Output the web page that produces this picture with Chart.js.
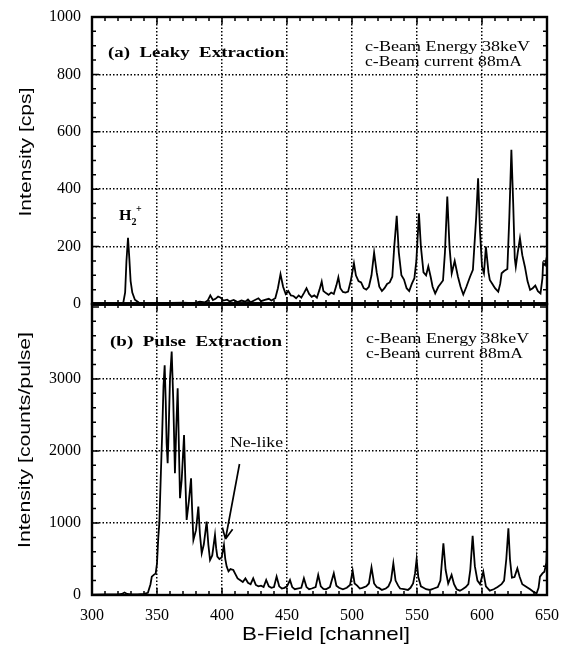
<!DOCTYPE html>
<html>
<head>
<meta charset="utf-8">
<script src="https://cdn.jsdelivr.net/npm/chart.js@4.4.0/dist/chart.umd.min.js"></script>
<style>
  html, body { margin: 0; padding: 0; background: #fff; }
  #wrap { position: relative; width: 569px; height: 646px; overflow: hidden; }
  canvas { position: absolute; left: 0; }
  #leaky { top: 0; }
  #pulse { top: 290px; }
</style>
</head>
<body>
<div id="wrap">
  <canvas id="leaky" width="569" height="330"></canvas>
  <canvas id="pulse" width="569" height="356"></canvas>
</div>
<script>
// Axis ticks
const xTicks = [300, 350, 400, 450, 500, 550, 600, 650];
const leakyTicks = [0, 200, 400, 600, 800, 1000];
const pulseTicks = [0, 1000, 2000, 3000];

// (a) Leaky extraction spectrum, channel / cps
const leakyCh = [
  300, 310, 320, 324, 325.5, 326.5, 327.7, 328.7, 329.7, 331,
  333, 336, 340, 350, 360, 370, 378, 383, 387, 389,
  391, 393, 395, 397, 399, 401, 404, 406, 409, 412,
  415, 418, 420, 422, 425, 428, 430, 433, 436, 438,
  441, 443, 445, 447, 449, 451, 453, 455, 457, 459,
  461, 463, 465, 467, 469, 471, 473, 475, 476.7, 478,
  480, 482, 484, 486, 488, 489.5, 491, 493, 495, 497,
  499, 501.5, 503, 505, 507, 509, 511, 513, 515, 517,
  519, 521, 523, 525, 527, 529, 531, 532.5, 534.4, 536,
  538, 540, 542, 544, 546, 548, 549.5, 551.5, 553, 555,
  557, 558.7, 560.5, 562, 564, 566.4, 568, 570, 571.5, 573.3,
  575, 576.7, 579, 581.5, 583.5, 585.6, 588, 590.8, 593, 595.5,
  597, 598.5, 600, 601.5, 603, 605, 606, 608, 610, 612.5,
  614, 615.1, 617, 619.5, 621, 622.6, 624, 625.2, 626, 627.5,
  629.2, 631, 633, 635, 637, 639, 641, 643, 645, 646.5,
  647, 648.5, 650
];
const leakyVal = [
  0, 2, 2, 3, 40, 150, 231, 160, 80, 40,
  15, 5, 3, 2, 4, 5, 3, 8, 6, 12,
  30, 14, 18, 26, 22, 12, 15, 9, 14, 7,
  12, 8, 16, 6, 13, 20, 10, 14, 18, 12,
  20, 55, 104, 60, 35, 45, 30, 28, 20, 30,
  22, 38, 55, 35, 25, 30, 22, 50, 78, 45,
  38, 32, 40, 35, 65, 93, 55, 42, 40, 43,
  80, 142, 100, 80, 75, 55, 50, 60, 100, 179,
  110, 60, 45, 55, 70, 75, 95, 200, 307, 180,
  100, 85, 55, 45, 70, 90, 150, 316, 200, 110,
  100, 131, 95, 60, 37, 60, 70, 82, 180, 374,
  200, 107, 150, 95, 60, 33, 60, 95, 119, 300,
  438, 250, 130, 107, 200, 110, 84, 70, 55, 43,
  70, 107, 115, 122, 300, 537, 350, 160, 130, 180,
  229, 170, 130, 80, 49, 55, 64, 45, 37, 90,
  142, 135, 167
];

// (b) Pulse extraction spectrum, channel / counts per pulse
const pulseCh = [
  300, 310, 320, 323, 325, 327, 330, 335, 340, 343,
  345, 346, 347.5, 349, 350, 351, 351.8, 353, 354, 355,
  355.9, 356.7, 357.4, 358.2, 359, 360, 361.3, 362.5, 363.8, 364.8,
  365.9, 366.8, 367.7, 369, 370.8, 371.8, 372.8, 374.5, 376.2, 377,
  378, 380, 381.8, 383, 384.4, 386, 388.2, 389.5, 390.8, 392.5,
  394.6, 395.5, 396.4, 398, 399.7, 401.5, 402.5, 403.6, 405, 406.5,
  408.7, 410, 412, 413.8, 416, 418, 420, 422, 424, 426,
  428, 430, 432, 434, 436, 438, 440, 442, 444, 446,
  448, 450, 452.3, 454, 456, 458, 461, 463, 465, 467,
  469, 472, 474, 476, 478, 480, 483, 486, 488, 490,
  493, 496, 498.5, 500.5, 502, 504, 506, 508, 511, 513,
  515, 517, 519, 521, 523, 526, 528, 530, 531.8, 533.5,
  535.5, 537, 540, 543, 545, 547, 548.5, 549.7, 551, 553,
  555, 557, 560, 563, 566, 568, 570.3, 572, 574, 576.6,
  578.5, 580.5, 583, 585, 587.5, 589.5, 591, 592.8, 594.5, 596.5,
  598.5, 601, 603, 606, 609, 612, 615, 617, 618.7, 620.3,
  621.5, 623, 625, 627.2, 629, 631, 634, 637, 640, 642,
  643.5, 644.6, 646.5, 648, 649.5, 650
];
const pulseVal = [
  5, 8, 10, 15, 35, 15, 10, 10, 15, 30,
  150, 255, 280, 300, 440, 800, 1000, 1700, 2250, 2900,
  3190, 2700, 2106, 1829, 2300, 3000, 3380, 2708, 1690, 2300,
  2870, 2100, 1343, 1600, 2222, 1600, 1042, 1300, 1620, 1200,
  764, 900, 1227, 850, 580, 700, 1018, 700, 486, 550,
  833, 650, 533, 500, 520, 694, 500, 394, 330, 360,
  347, 300, 230, 208, 180, 230, 170, 150, 231, 140,
  120, 130, 110, 208, 120, 100, 110, 255, 120, 90,
  100, 120, 208, 110, 80, 90, 100, 231, 110, 80,
  90, 110, 278, 120, 85, 80, 110, 301, 130, 100,
  80, 100, 140, 338, 160, 130, 90, 100, 120, 160,
  384, 160, 110, 95, 70, 90, 120, 200, 440, 200,
  130, 90, 80, 70, 100, 160, 300, 495, 250, 120,
  100, 80, 70, 90, 110, 200, 718, 350, 160, 278,
  150, 80, 60, 80, 110, 150, 350, 820, 400, 200,
  150, 324, 120, 60, 80, 110, 150, 200, 500, 926,
  500, 240, 250, 370, 250, 150, 116, 80, 40, 23,
  100, 255, 300, 324, 450, 700
];

const serif = '"Liberation Serif", "Times New Roman", serif';
const sans = '"Liberation Sans", Arial, sans-serif';

// Draw a text stretched to a given width (the scan uses a wide face)
function drawNote(ctx, n, oy) {
  ctx.save();
  ctx.font = n.font;
  ctx.fillStyle = '#000';
  ctx.textBaseline = 'middle';
  ctx.textAlign = n.align || 'left';
  const m = ctx.measureText(n.text).width;
  ctx.translate(n.x, n.y - oy);
  if (n.rot) ctx.rotate(n.rot);
  ctx.scale(n.w ? n.w / m : 1, 1);
  ctx.fillText(n.text, 0, 0);
  ctx.restore();
}

function drawArrow(ctx, a, oy) {
  const [x1, y1, x2, y2] = a;
  const ang = Math.atan2(y2 - y1, x2 - x1);
  ctx.save();
  ctx.strokeStyle = '#000';
  ctx.lineWidth = 1.7;
  ctx.beginPath();
  ctx.moveTo(x1, y1 - oy);
  ctx.lineTo(x2, y2 - oy);
  [-0.45, 0.45].forEach(d => {
    ctx.moveTo(x2, y2 - oy);
    ctx.lineTo(x2 - 12 * Math.cos(ang + d), y2 - oy - 12 * Math.sin(ang + d));
  });
  ctx.stroke();
  ctx.restore();
}

// Frame, inward ticks and labels
const framePlugin = {
  id: 'frame',
  afterDraw(chart, args, opts) {
    const { ctx, chartArea: a, scales: { x, y } } = chart;
    const oy = chart.canvas.offsetTop;
    ctx.save();
    ctx.strokeStyle = '#000';
    ctx.lineWidth = 1.5;
    ctx.beginPath();
    for (let v = x.min; v <= x.max + 0.01; v += 10) {
      const px = x.getPixelForValue(v);
      const len = v % 50 === 0 ? 7 : 4;
      ctx.moveTo(px, a.bottom); ctx.lineTo(px, a.bottom - len);
      ctx.moveTo(px, a.top); ctx.lineTo(px, a.top + len);
    }
    for (let v = 0; v <= y.max + 0.01; v += opts.yMinor) {
      const py = y.getPixelForValue(v);
      const len = v % opts.yMajor === 0 ? 7 : 4;
      ctx.moveTo(a.left, py); ctx.lineTo(a.left + len, py);
      ctx.moveTo(a.right, py); ctx.lineTo(a.right - len, py);
    }
    ctx.stroke();

    ctx.lineWidth = 2.4;
    ctx.strokeRect(a.left, a.top, a.right - a.left, a.bottom - a.top);
    ctx.lineWidth = 3.4;
    ctx.beginPath();
    ctx.moveTo(a.left, a[opts.joint]);
    ctx.lineTo(a.right, a[opts.joint]);
    ctx.stroke();
    ctx.restore();

    opts.notes.forEach(n => drawNote(ctx, n, oy));
    if (opts.arrow) drawArrow(ctx, opts.arrow, oy);
  }
};

function noPad(s) {
  s.paddingTop = 0; s.paddingBottom = 0; s.paddingLeft = 0; s.paddingRight = 0;
}

function makeChart(id, ch, val, yMax, yTicks, showX, padding, frame) {
  return new Chart(document.getElementById(id), {
    type: 'line',
    data: {
      datasets: [{
        data: ch.map((c, i) => ({ x: c, y: val[i] })),
        borderColor: '#000',
        borderWidth: 1.8,
        pointRadius: 0,
        tension: 0
      }]
    },
    options: {
      responsive: false,
      animation: false,
      layout: { padding },
      plugins: { legend: { display: false }, tooltip: { enabled: false }, frame },
      scales: {
        x: {
          type: 'linear',
          min: 300,
          max: 650,
          afterBuildTicks: s => { s.ticks = xTicks.map(v => ({ value: v })); },
          afterFit: s => { s.height = showX ? 51 : 0; noPad(s); },
          grid: { color: '#000', lineWidth: 1.5, drawTicks: false },
          border: { display: false, dash: [1.5, 2] },
          ticks: { display: showX, padding: 11, color: '#000', font: { family: serif, size: 16 }, callback: v => String(v) }
        },
        y: {
          min: 0,
          max: yMax,
          afterBuildTicks: s => { s.ticks = yTicks.map(v => ({ value: v })); },
          afterFit: s => { s.width = 92; noPad(s); },
          grid: { color: '#000', lineWidth: 1.5, drawTicks: false },
          border: { display: false, dash: [1.5, 2] },
          ticks: { padding: 11, color: '#000', font: { family: serif, size: 16 }, callback: v => String(v) }
        }
      }
    },
    plugins: [framePlugin]
  });
}

makeChart('leaky', leakyCh, leakyVal, 1000, leakyTicks, false,
  { top: 17, right: 22, bottom: 26, left: 0 },
  {
    yMinor: 50, yMajor: 200, joint: 'bottom',
    notes: [
      { text: 'Intensity [cps]', x: 26, y: 152, w: 129, font: '17px ' + sans, rot: -Math.PI / 2, align: 'center' },
      { text: '(a)  Leaky  Extraction', x: 108, y: 53, w: 177, font: 'bold 15px ' + serif },
      { text: 'c-Beam Energy 38keV', x: 365, y: 47, w: 165, font: '14px ' + serif },
      { text: 'c-Beam current 88mA', x: 365, y: 62, w: 157, font: '14px ' + serif },
      { text: 'H', x: 119, y: 216, w: 12.5, font: 'bold 15px ' + serif },
      { text: '2', x: 131.5, y: 222.5, font: 'bold 10px ' + serif },
      { text: '+', x: 136, y: 209, font: 'bold 10px ' + serif }
    ]
  });

makeChart('pulse', pulseCh, pulseVal, 4040, pulseTicks, true,
  { top: 14, right: 22, bottom: 0, left: 0 },
  {
    yMinor: 200, yMajor: 1000, joint: 'top',
    notes: [
      { text: 'Intensity [counts/pulse]', x: 25, y: 440, w: 216, font: '17px ' + sans, rot: -Math.PI / 2, align: 'center' },
      { text: 'B-Field [channel]', x: 326, y: 635, w: 168, font: '19px ' + sans, align: 'center' },
      { text: '(b)  Pulse  Extraction', x: 110, y: 342, w: 172, font: 'bold 15px ' + serif },
      { text: 'c-Beam Energy 38keV', x: 366, y: 339, w: 163, font: '14px ' + serif },
      { text: 'c-Beam current 88mA', x: 366, y: 354, w: 157, font: '14px ' + serif },
      { text: 'Ne-like', x: 230, y: 443, w: 53, font: '14px ' + serif }
    ],
    arrow: [239.5, 464, 225.5, 539]
  });
</script>
</body>
</html>
